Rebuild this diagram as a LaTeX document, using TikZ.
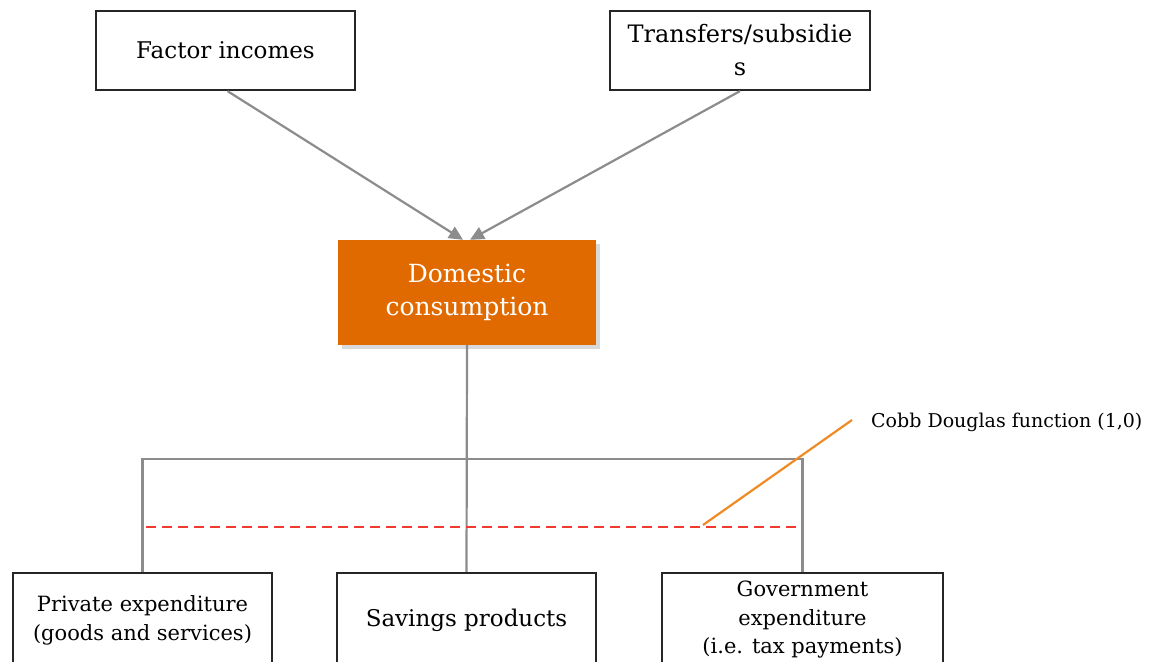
\documentclass[tikz,border=0pt]{standalone}
\usepackage{fontspec}
\setmainfont{DejaVu Serif}
\usetikzlibrary{arrows.meta,shadows,calc}
\definecolor{domorange}{HTML}{E06A00}
\definecolor{linegray}{HTML}{8C8C8C}
\definecolor{dashred}{HTML}{F03A2E}
\definecolor{cobborange}{HTML}{F08A24}
\tikzset{
  box/.style={draw=black!85, line width=2.2pt, fill=white, align=center, inner sep=0pt},
  dombox/.style={fill=domorange, text=white, align=center, inner sep=0pt,
     drop shadow={shadow xshift=4pt, shadow yshift=-4pt, opacity=0.3}},
  conn/.style={draw=linegray, line width=2.2pt},
  arr/.style={conn, -{Triangle[length=14pt,width=13pt]}},
  reddash/.style={draw=dashred, line width=2pt, dash pattern=on 10pt off 6pt},
  cobbline/.style={draw=cobborange, line width=2.2pt},
}
\begin{document}
\begin{tikzpicture}[x=1pt,y=-1pt]
\useasboundingbox (0,0) rectangle (1155,661);
\clip (0,0) rectangle (1155,661);
\node[box, minimum width=259pt, minimum height=79pt, font=\fontsize{23}{27}\selectfont] (f) at (225.5,50.5) {Factor incomes};
\node[box, minimum width=260pt, minimum height=79pt, font=\fontsize{24}{33}\selectfont] (t) at (740,50.5) {Transfers/subsidie\\s};
\node[dombox, minimum width=258pt, minimum height=105pt, font=\fontsize{25}{33}\selectfont] (d) at (467,292.5) {Domestic\\consumption};
\node[box, minimum width=259pt, minimum height=94pt, font=\fontsize{21}{29}\selectfont] (p) at (142.5,620) {Private expenditure\\(goods and services)};
\node[box, minimum width=259pt, minimum height=94pt, font=\fontsize{23}{27}\selectfont] (s) at (466.5,620) {Savings products};
\node[box, minimum width=281pt, minimum height=94pt, font=\fontsize{21}{28.5}\selectfont] (g) at (802.5,620) {Government\\expenditure\\(i.e. tax payments)};
\node[anchor=west, inner sep=0pt, font=\fontsize{19}{22}\selectfont] (c) at (871,422) {Cobb Douglas function (1,0)};
\coordinate (bar) at (0,459);
\coordinate (dl1) at (146,527);
\coordinate (dl2) at (797,527);
\coordinate (cl1) at (703,525);
\coordinate (cl2) at (852,420);
\draw[arr] ([xshift=2pt]f.south) -- ([xshift=-4pt]d.north);
\draw[arr] (t.south) -- ([xshift=3pt]d.north);
\draw[conn] (d.south) -- (s.north);
\draw[conn] (p.north) -- (p.north |- bar) -- (g.north |- bar) -- (g.north);
\draw[reddash] (dl1) -- (dl2);
\draw[cobbline] (cl1) -- (cl2);
\end{tikzpicture}
\end{document}
